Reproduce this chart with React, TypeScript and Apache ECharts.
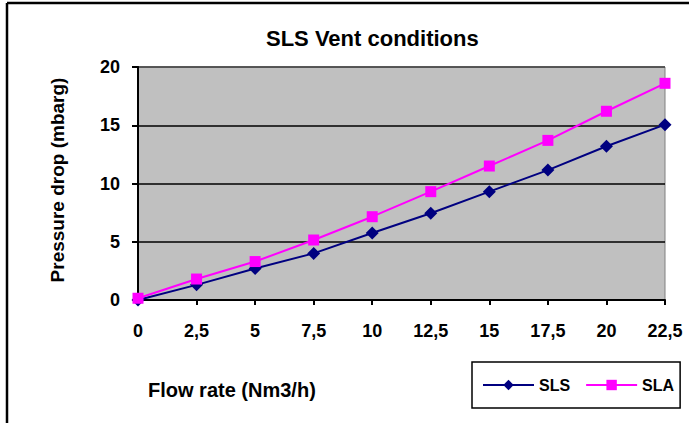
import React, { useEffect, useRef } from "react";
import * as echarts from "echarts";

const categories = ["0", "2,5", "5", "7,5", "10", "12,5", "15", "17,5", "20", "22,5"];
const slsValues = [0, 1.3, 2.7, 4.0, 5.75, 7.45, 9.3, 11.15, 13.2, 15.05];
const slaValues = [0.15, 1.8, 3.3, 5.15, 7.15, 9.3, 11.5, 13.7, 16.2, 18.6];
const yTicks = { min: 0, max: 20, interval: 5 };

const FONT = "'Liberation Sans', Arial, sans-serif";

export default function App() {
  const ref = useRef<HTMLDivElement>(null);
  useEffect(() => {
    if (!ref.current) return;
    const chart = echarts.init(ref.current, null, { renderer: "svg" });
    chart.setOption({
      animation: false,
      backgroundColor: "#ffffff",
      title: {
        text: "SLS Vent conditions",
        left: 266,
        top: 27,
        padding: 0,
        textStyle: { fontFamily: FONT, fontWeight: "bold", fontSize: 22, color: "#000" },
      },
      grid: {
        left: 138,
        right: 24,
        top: 67,
        bottom: 123,
        show: true,
        backgroundColor: "#C0C0C0",
        borderColor: "#808080",
        borderWidth: 1,
      },
      legend: {
        left: 472,
        top: 362,
        padding: [15, 6, 15, 10],
        itemWidth: 51,
        itemHeight: 13,
        itemGap: 15,
        borderColor: "#000",
        borderWidth: 1.5,
        textStyle: { fontFamily: FONT, fontWeight: "bold", fontSize: 16, color: "#000" },
        data: ["SLS", "SLA"],
      },
      xAxis: {
        type: "category",
        data: categories,
        boundaryGap: false,
        axisLine: { lineStyle: { color: "#000", width: 2 } },
        axisTick: { show: true, inside: false, length: 5, lineStyle: { color: "#000", width: 2 } },
        axisLabel: { margin: 22, fontFamily: FONT, fontWeight: "bold", fontSize: 18, color: "#000" },
        splitLine: { show: false },
      },
      yAxis: {
        type: "value",
        min: yTicks.min,
        max: yTicks.max,
        interval: yTicks.interval,
        axisLine: { show: true, lineStyle: { color: "#000", width: 2 } },
        axisTick: { show: true, length: 6, lineStyle: { color: "#000", width: 2 } },
        axisLabel: { margin: 18, fontFamily: FONT, fontWeight: "bold", fontSize: 18, color: "#000" },
        splitLine: { show: true, lineStyle: { color: "#000", width: 1.6 } },
      },
      graphic: [
        {
          type: "line",
          shape: { x1: 7, y1: 3, x2: 700, y2: 3 },
          style: { stroke: "#000", lineWidth: 2.5 },
        },
        {
          type: "line",
          shape: { x1: 7, y1: 3, x2: 7, y2: 430 },
          style: { stroke: "#000", lineWidth: 2.5 },
        },
        {
          type: "line",
          z: 10,
          shape: { x1: 139, y1: 67, x2: 665, y2: 67 },
          style: { stroke: "#808080", lineWidth: 1.2 },
        },
        {
          type: "text",
          x: 57,
          y: 180,
          rotation: Math.PI / 2,
          style: {
            text: "Pressure drop (mbarg)",
            fontFamily: FONT,
            fontWeight: "bold",
            fontSize: 19,
            fill: "#000",
            align: "center",
            verticalAlign: "middle",
          },
        },
        {
          type: "text",
          x: 148,
          y: 390,
          style: {
            text: "Flow rate (Nm3/h)",
            fontFamily: FONT,
            fontWeight: "bold",
            fontSize: 20,
            fill: "#000",
            align: "left",
            verticalAlign: "middle",
          },
        },
      ],
      series: [
        {
          name: "SLS",
          type: "line",
          data: slsValues,
          symbol: "diamond",
          symbolSize: 13,
          lineStyle: { color: "#000080", width: 2 },
          itemStyle: { color: "#000080" },
          z: 3,
        },
        {
          name: "SLA",
          type: "line",
          data: slaValues,
          symbol: "rect",
          symbolSize: 11,
          lineStyle: { color: "#FF00FF", width: 2 },
          itemStyle: { color: "#FF00FF" },
          z: 4,
        },
      ],
    });
    return () => chart.dispose();
  }, []);
  return (
    <div
      ref={ref}
      style={{ position: "absolute", left: 0, top: 0, width: 689, height: 423 }}
    />
  );
}
